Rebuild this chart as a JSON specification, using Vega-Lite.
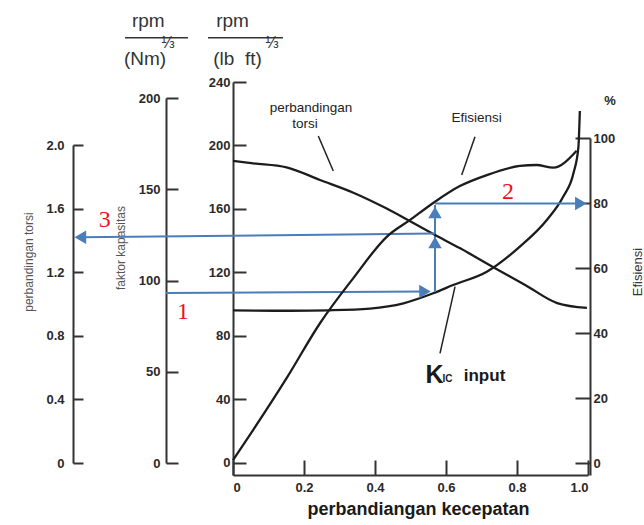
{
  "$schema": "https://vega.github.io/schema/vega-lite/v6.json",
  "width": 355,
  "height": 393,
  "autosize": "none",
  "padding": {"left": 233, "top": 82, "right": 56, "bottom": 50},
  "background": "white",
  "config": {
    "view": {"stroke": null},
    "axis": {"domainColor": "#333", "domainWidth": 2, "tickColor": "#333", "tickWidth": 2, "labelColor": "#2a2a2a", "labelFont": "Liberation Sans", "labelFontWeight": "bold", "labelFontSize": 13, "grid": false},
    "text": {"font": "Liberation Sans"}
  },
  "datasets": {
    "k": [
      {"x": 0, "y": 96.1}, {"x": 0.161, "y": 95.9}, {"x": 0.273, "y": 96.2}, {"x": 0.386, "y": 97.3},
      {"x": 0.48, "y": 100.6}, {"x": 0.564, "y": 106.9}, {"x": 0.62, "y": 112.1}, {"x": 0.715, "y": 120.5},
      {"x": 0.808, "y": 136.3}, {"x": 0.884, "y": 153.1}, {"x": 0.93, "y": 167.7}, {"x": 0.959, "y": 182.5},
      {"x": 0.973, "y": 199.2}, {"x": 0.977, "y": 221.7}
    ],
    "tr": [
      {"x": 0, "y": 1.9}, {"x": 0.057, "y": 1.885}, {"x": 0.151, "y": 1.86}, {"x": 0.245, "y": 1.78},
      {"x": 0.339, "y": 1.7}, {"x": 0.433, "y": 1.6}, {"x": 0.499, "y": 1.52}, {"x": 0.564, "y": 1.44},
      {"x": 0.64, "y": 1.35}, {"x": 0.732, "y": 1.233}, {"x": 0.823, "y": 1.12}, {"x": 0.913, "y": 1.006},
      {"x": 0.997, "y": 0.975}
    ],
    "eff": [
      {"x": 0, "y": 0.9}, {"x": 0.057, "y": 10.2}, {"x": 0.151, "y": 26.1}, {"x": 0.245, "y": 43.0},
      {"x": 0.339, "y": 56.9}, {"x": 0.433, "y": 69.6}, {"x": 0.499, "y": 74.8}, {"x": 0.569, "y": 80.4},
      {"x": 0.639, "y": 85.2}, {"x": 0.715, "y": 88.6}, {"x": 0.808, "y": 91.4}, {"x": 0.855, "y": 91.7},
      {"x": 0.902, "y": 90.9}, {"x": 0.968, "y": 96.1}
    ]
  },
  "encoding": {
    "x": {
      "field": "x", "type": "quantitative",
      "scale": {"domain": [0, 1], "nice": false, "zero": false},
      "axis": {
        "orient": "bottom", "values": [0, 0.2, 0.4, 0.6, 0.8, 1.0], "tickSize": -15, "labelPadding": 21,
        "labelExpr": "datum.value == 0 ? '0' : format(datum.value, '.1f')",
        "title": "perbandiangan kecepatan", "titleFont": "Liberation Sans", "titleFontSize": 18, "titleFontWeight": "bold",
        "titleColor": "#1a1a1a", "titlePadding": 6, "titleX": 185
      }
    }
  },
  "layer": [
    {
      "encoding": {
        "y": {
          "field": "y", "type": "quantitative",
          "scale": {"domain": [-7.56, 240], "nice": false, "zero": false},
          "axis": {"orient": "left", "offset": 0, "values": [0, 40, 80, 120, 160, 200, 240], "tickSize": -13, "labelPadding": 16, "title": null}
        }
      },
      "layer": [
        {"data": {"name": "k"}, "mark": {"type": "line", "interpolate": "monotone", "color": "#1c1c1c", "strokeWidth": 2.3}},
        {
          "data": {"values": [
            {"x": 0.2403, "y": 205.98, "x2": 0.2825, "y2": 183.9},
            {"x": 0.6817, "y": 205.5, "x2": 0.6442, "y2": 181.4},
            {"x": 0.6254, "y": 111.1, "x2": 0.5831, "y2": 69.1}
          ]},
          "mark": {"type": "rule", "color": "#222", "strokeWidth": 1.5},
          "encoding": {"x2": {"field": "x2"}, "y2": {"field": "y2"}}
        },
        {
          "data": {"values": [{"x": 0.569, "y": 107.7, "x2": 0.569, "y2": 162.5}]},
          "mark": {"type": "rule", "color": "#4a7ebb", "strokeWidth": 2},
          "encoding": {"x2": {"field": "x2"}, "y2": {"field": "y2"}}
        },
        {
          "data": {"values": [{"x": 0.569, "y": 138.9}, {"x": 0.569, "y": 157.8}]},
          "mark": {"type": "point", "shape": "triangle-up", "filled": true, "color": "#4a7ebb", "opacity": 1, "size": 180}
        },
        {
          "data": {"values": [{"x": -0.3042, "x2": -0.1268, "y": 267.9}, {"x": -0.0704, "x2": 0.1408, "y": 267.9}]},
          "mark": {"type": "rule", "color": "#333", "strokeWidth": 1.5},
          "encoding": {"x2": {"field": "x2"}}
        },
        {
          "data": {"values": [
            {"x": 0.2197, "y": 223.6, "t": "perbandingan"},
            {"x": 0.2028, "y": 213.5, "t": "torsi"},
            {"x": 0.686, "y": 217.6, "t": "Efisiensi"}
          ]},
          "mark": {"type": "text", "fontSize": 13.5, "color": "#222", "align": "center", "baseline": "middle"},
          "encoding": {"text": {"field": "t"}}
        },
        {
          "data": {"values": [{"x": 0.5676, "y": 50.4, "t": "K"}]},
          "mark": {"type": "text", "fontSize": 25, "fontWeight": "bold", "color": "#1a1a1a", "align": "center", "baseline": "alphabetic"},
          "encoding": {"text": {"field": "t"}}
        },
        {
          "data": {"values": [{"x": 0.6042, "y": 51.0, "t": "IC"}]},
          "mark": {"type": "text", "fontSize": 10, "fontWeight": "bold", "color": "#1a1a1a", "align": "center", "baseline": "alphabetic"},
          "encoding": {"text": {"field": "t"}}
        },
        {
          "data": {"values": [{"x": 0.7085, "y": 51.7, "t": "input"}]},
          "mark": {"type": "text", "fontSize": 17, "fontWeight": "bold", "color": "#1a1a1a", "align": "center", "baseline": "alphabetic"},
          "encoding": {"text": {"field": "t"}}
        },
        {
          "data": {"values": [
            {"x": -0.2386, "y": 274.6, "t": "rpm"},
            {"x": -0.0014, "y": 274.6, "t": "rpm"},
            {"x": -0.2479, "y": 250.7, "t": "(Nm)"},
            {"x": 0.0127, "y": 250.7, "t": "(lb\u00a0 ft)"}
          ]},
          "mark": {"type": "text", "fontSize": 19, "color": "#333", "align": "center", "baseline": "alphabetic"},
          "encoding": {"text": {"field": "t"}}
        },
        {
          "data": {"values": [{"x": -0.1831, "y": 264.6, "t": "⅓"}, {"x": 0.1099, "y": 264.6, "t": "⅓"}]},
          "mark": {"type": "text", "fontSize": 16, "color": "#333", "align": "center", "baseline": "middle"},
          "encoding": {"text": {"field": "t"}}
        },
        {
          "data": {"values": [{"x": 1.062, "y": 228.0, "t": "%"}]},
          "mark": {"type": "text", "fontSize": 13, "fontWeight": "bold", "color": "#2a2a2a", "align": "center", "baseline": "middle"},
          "encoding": {"text": {"field": "t"}}
        },
        {
          "data": {"values": [{"x": 1.1408, "y": 120.3, "t": "Efisiensi"}]},
          "mark": {"type": "text", "fontSize": 13, "color": "#333", "align": "center", "baseline": "middle", "angle": 270},
          "encoding": {"text": {"field": "t"}}
        },
        {
          "data": {"values": [{"x": -0.3155, "y": 135.4, "t": "faktor kapasitas"}, {"x": -0.5746, "y": 126.6, "t": "perbandingan torsi"}]},
          "mark": {"type": "text", "fontSize": 12, "color": "#555", "align": "center", "baseline": "middle", "angle": 270},
          "encoding": {"text": {"field": "t"}}
        },
        {
          "data": {"values": [{"x": -0.1408, "y": 95.1, "t": "1"}, {"x": 0.7746, "y": 170.9, "t": "2"}, {"x": -0.3614, "y": 153.1, "t": "3"}]},
          "mark": {"type": "text", "font": "Liberation Serif", "fontSize": 24, "color": "#e8141c", "align": "center", "baseline": "middle"},
          "encoding": {"text": {"field": "t"}}
        }
      ]
    },
    {
      "encoding": {
        "y": {
          "field": "y", "type": "quantitative",
          "scale": {"domain": [0, 2], "nice": false, "zero": false, "range": [381, 63]},
          "axis": {"orient": "left", "offset": 160, "values": [0, 0.4, 0.8, 1.2, 1.6, 2.0], "tickSize": -10, "labelPadding": 19,
                   "labelExpr": "datum.value == 0 ? '0' : format(datum.value, '.1f')", "title": null}
        }
      },
      "layer": [
        {"data": {"name": "tr"}, "mark": {"type": "line", "interpolate": "monotone", "color": "#1c1c1c", "strokeWidth": 2.3}},
        {
          "data": {"values": [{"x": 0.569, "y": 1.443, "x2": -0.428, "y2": 1.42}]},
          "mark": {"type": "rule", "color": "#4a7ebb", "strokeWidth": 2},
          "encoding": {"x2": {"field": "x2"}, "y2": {"field": "y2"}}
        },
        {
          "data": {"values": [{"x": -0.43, "y": 1.42}]},
          "mark": {"type": "point", "shape": "triangle-left", "filled": true, "color": "#4a7ebb", "opacity": 1, "size": 180}
        }
      ]
    },
    {
      "encoding": {
        "y": {
          "field": "y", "type": "quantitative",
          "scale": {"domain": [0, 200], "nice": false, "zero": false, "range": [381, 16]},
          "axis": {"orient": "left", "offset": 67, "values": [0, 50, 100, 150, 200], "tickSize": -12, "labelPadding": 18, "title": null}
        }
      },
      "layer": [
        {
          "data": {"values": [{"x": -0.1887, "y": 93.15, "x2": 0.5408, "y2": 93.97}]},
          "mark": {"type": "rule", "color": "#4a7ebb", "strokeWidth": 2},
          "encoding": {"x2": {"field": "x2"}, "y2": {"field": "y2"}}
        },
        {
          "data": {"values": [{"x": 0.5408, "y": 93.97}]},
          "mark": {"type": "point", "shape": "triangle-right", "filled": true, "color": "#4a7ebb", "opacity": 1, "size": 180}
        }
      ]
    },
    {
      "encoding": {
        "y": {
          "field": "y", "type": "quantitative",
          "scale": {"domain": [-3.69, 100], "nice": false, "zero": false, "range": [393, 56]},
          "axis": {"orient": "right", "offset": 2, "values": [0, 20, 40, 60, 80, 100], "tickSize": -15, "labelPadding": 18, "title": null}
        }
      },
      "layer": [
        {"data": {"name": "eff"}, "mark": {"type": "line", "interpolate": "monotone", "color": "#1c1c1c", "strokeWidth": 2.3}},
        {
          "data": {"values": [{"x": 0.569, "x2": 0.975, "y": 79.85}]},
          "mark": {"type": "rule", "color": "#4a7ebb", "strokeWidth": 2},
          "encoding": {"x2": {"field": "x2"}}
        },
        {
          "data": {"values": [{"x": 0.98, "y": 79.85}]},
          "mark": {"type": "point", "shape": "triangle-right", "filled": true, "color": "#4a7ebb", "opacity": 1, "size": 180}
        }
      ]
    }
  ],
  "resolve": {"scale": {"y": "independent"}, "axis": {"y": "independent"}}
}
